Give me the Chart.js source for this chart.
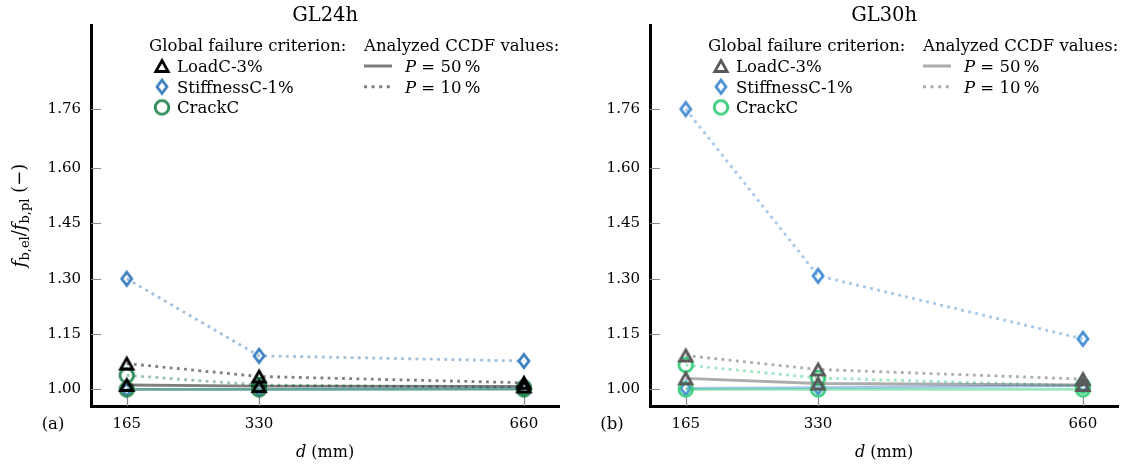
<!DOCTYPE html>
<html>
<head>
<meta charset="utf-8">
<title>GL24h / GL30h</title>
<script src="https://cdn.jsdelivr.net/npm/chart.js@4.4.0/dist/chart.umd.min.js"></script>
<style>
  html, body { margin: 0; padding: 0; background: #fff; }
  #lienzo { position: relative; width: 1137px; height: 464px; overflow: hidden; }
  #lienzo canvas { position: absolute; top: 0; }
</style>
</head>
<body>
<div id="lienzo">
  <canvas id="graficaA" width="570" height="464" style="left:0"></canvas>
  <canvas id="graficaB" width="570" height="464" style="left:559px"></canvas>
</div>
<script>
// Tamaños de probeta y marcas de los ejes
const diametros = [165, 330, 660];
const ticksX = [165, 330, 660];
const ticksY = [1.00, 1.15, 1.30, 1.45, 1.60, 1.76];
const criterios = ['LoadC-3%', 'StiffnessC-1%', 'CrackC'];

// GL24h: f_b,el / f_b,pl por criterio, P = 50 % y P = 10 %
const gl24_load_p50 = [1.012, 1.009, 1.008];
const gl24_load_p10 = [1.070, 1.035, 1.018];
const gl24_stiff_p50 = [1.000, 1.000, 1.002];
const gl24_stiff_p10 = [1.300, 1.091, 1.077];
const gl24_crack_p50 = [1.000, 1.000, 1.000];
const gl24_crack_p10 = [1.038, 1.012, 1.005];

// GL30h
const gl30_load_p50 = [1.030, 1.016, 1.012];
const gl30_load_p10 = [1.092, 1.054, 1.028];
const gl30_stiff_p50 = [1.003, 1.005, 1.010];
const gl30_stiff_p10 = [1.760, 1.308, 1.137];
const gl30_crack_p50 = [1.000, 1.000, 1.000];
const gl30_crack_p10 = [1.066, 1.031, 1.010];

const serif = '"DejaVu Serif", "Liberation Serif", serif';
const X_MIN = 120.5, X_MAX = 704;
const Y_MIN = 0.955, Y_MAX = 1.988;

function conAlfa(hex, a) {
  const n = parseInt(hex.slice(1), 16);
  return `rgba(${(n >> 16) & 255},${(n >> 8) & 255},${n & 255},${a})`;
}

// Marcadores huecos (triángulo, diamante fino, círculo) como imagen de punto
function hacerMarcador(tipo, color) {
  const c = document.createElement('canvas');
  c.width = 26; c.height = 26;
  const g = c.getContext('2d');
  g.strokeStyle = color;
  g.lineWidth = 2.8;
  g.lineJoin = 'miter';
  g.beginPath();
  if (tipo === 'tri') {
    g.moveTo(13, 7.5); g.lineTo(19.2, 18.5); g.lineTo(6.8, 18.5); g.closePath();
  } else if (tipo === 'diam') {
    g.moveTo(13, 6.3); g.lineTo(18, 13); g.lineTo(13, 19.7); g.lineTo(8, 13); g.closePath();
  } else {
    g.arc(13, 13, 6.8, 0, Math.PI * 2);
  }
  g.stroke();
  return c;
}

// Texto con cursivas y subíndices, y = línea base
function textoRico(ctx, partes, x, y, align) {
  const fuente = p => `${p.it ? 'italic ' : ''}${p.sz}px ${serif}`;
  let ancho = 0;
  partes.forEach(p => { ctx.font = fuente(p); ancho += ctx.measureText(p.t).width; });
  let cx = align === 'center' ? x - ancho / 2 : x;
  ctx.textAlign = 'left';
  ctx.textBaseline = 'alphabetic';
  partes.forEach(p => {
    ctx.font = fuente(p);
    ctx.fillText(p.t, cx, y + (p.dy || 0));
    cx += ctx.measureText(p.t).width;
  });
}

function serie(etiqueta, valores, color, punteada, marcador, orden) {
  return {
    label: etiqueta,
    data: diametros.map((d, i) => ({ x: d, y: valores[i] })),
    borderColor: conAlfa(color, 0.5),
    borderWidth: 2.8,
    borderDash: punteada ? [2.8, 4.4] : [],
    borderCapStyle: 'butt',
    pointStyle: marcador,
    pointRadius: 8,
    pointHoverRadius: 8,
    fill: false,
    tension: 0,
    clip: false,
    order: orden
  };
}

function crearGrafica(canvasId, titulo, etiqueta, conTituloY, colores, p50, p10) {
  const marcadores = [
    hacerMarcador('tri', colores[0]),
    hacerMarcador('diam', colores[1]),
    hacerMarcador('circ', colores[2])
  ];
  // triángulos encima, luego círculos, diamantes debajo
  const ordenes = [1, 3, 2];
  const datasets = [];
  for (let i = 0; i < 3; i++) {
    datasets.push(serie(`${criterios[i]} P=50%`, p50[i], colores[i], false, marcadores[i], ordenes[i]));
    datasets.push(serie(`${criterios[i]} P=10%`, p10[i], colores[i], true, marcadores[i], ordenes[i]));
  }

  // marcas interiores de los ejes
  const marcasInternas = {
    id: 'marcasInternas',
    beforeDatasetsDraw(chart) {
      const { ctx, chartArea: a, scales } = chart;
      ctx.save();
      ctx.strokeStyle = '#8a8a8a';
      ctx.lineWidth = 1.2;
      ctx.beginPath();
      ticksY.forEach(v => {
        const y = Math.round(scales.y.getPixelForValue(v)) + 0.5;
        ctx.moveTo(a.left, y); ctx.lineTo(a.left + 10, y);
      });
      ticksX.forEach(v => {
        const x = Math.round(scales.x.getPixelForValue(v)) + 0.5;
        ctx.moveTo(x, a.bottom); ctx.lineTo(x, a.bottom - 10);
      });
      ctx.stroke();
      ctx.restore();
    }
  };

  // título, leyenda de dos columnas y rótulos de ejes
  const rotulos = {
    id: 'rotulos',
    afterDraw(chart) {
      const { ctx, chartArea: a } = chart;
      const x0 = a.left;
      ctx.save();
      ctx.fillStyle = '#000';

      textoRico(ctx, [{ t: titulo, sz: 19.5 }], (a.left + a.right) / 2, 21, 'center');

      const fl = 16.5;
      textoRico(ctx, [{ t: 'Global failure criterion:', sz: fl }], x0 + 58, 51, 'left');
      textoRico(ctx, [{ t: 'Analyzed CCDF values:', sz: fl }], x0 + 273, 51, 'left');
      criterios.forEach((c, i) => {
        const y = 66 + i * 20.7;
        const m = marcadores[i];
        ctx.drawImage(m, x0 + 71 - m.width / 2, y - m.height / 2);
        textoRico(ctx, [{ t: c, sz: fl }], x0 + 86, y + 6, 'left');
      });
      ['50', '10'].forEach((p, i) => {
        const y = 66 + i * 20.7;
        ctx.strokeStyle = conAlfa(colores[0], 0.5);
        ctx.lineWidth = 3;
        ctx.setLineDash(i === 0 ? [] : [3, 4.6]);
        ctx.beginPath();
        ctx.moveTo(x0 + 273, y); ctx.lineTo(x0 + 301, y);
        ctx.stroke();
        ctx.setLineDash([]);
        textoRico(ctx, [{ t: 'P', it: true, sz: fl }, { t: ` = ${p}\u2009%`, sz: fl }], x0 + 314, y + 6, 'left');
      });

      textoRico(ctx, [{ t: 'd', it: true, sz: 16 }, { t: ' (mm)', sz: 16 }], (a.left + a.right) / 2, 457, 'center');
      textoRico(ctx, [{ t: etiqueta, sz: 16.5 }], 53, 429, 'center');

      if (conTituloY) {
        ctx.translate(20, (a.top + a.bottom) / 2);
        ctx.rotate(-Math.PI / 2);
        textoRico(ctx, [
          { t: 'f', it: true, sz: 18 }, { t: 'b,el', sz: 13, dy: 4 },
          { t: '/', sz: 18 }, { t: 'f', it: true, sz: 18 }, { t: 'b,pl', sz: 13, dy: 4 },
          { t: ' (\u2212)', sz: 18 }
        ], 0, 5, 'center');
      }
      ctx.restore();
    }
  };

  const fuenteTicks = { family: serif, size: 15 };
  return new Chart(document.getElementById(canvasId), {
    type: 'line',
    data: { datasets },
    plugins: [marcasInternas, rotulos],
    options: {
      responsive: false,
      animation: false,
      events: [],
      layout: { padding: { top: 25, right: 1, left: 0, bottom: 0 } },
      plugins: { legend: { display: false }, tooltip: { enabled: false }, title: { display: false } },
      scales: {
        x: {
          type: 'linear', min: X_MIN, max: X_MAX,
          afterBuildTicks: s => { s.ticks = ticksX.map(v => ({ value: v })); },
          afterFit: s => { s.height = 58; },
          ticks: { color: '#000', font: fuenteTicks, padding: 9, autoSkip: false, maxRotation: 0,
                   callback: v => String(v) },
          grid: { display: true, drawOnChartArea: false, drawTicks: false },
          border: { display: true, color: '#000', width: 3 }
        },
        y: {
          type: 'linear', min: Y_MIN, max: Y_MAX,
          afterBuildTicks: s => { s.ticks = ticksY.map(v => ({ value: v })); },
          afterFit: s => { s.width = 91; },
          ticks: { color: '#000', font: fuenteTicks, padding: 10, autoSkip: false,
                   callback: v => Number(v).toFixed(2) },
          grid: { display: true, drawOnChartArea: false, drawTicks: false },
          border: { display: true, color: '#000', width: 3 }
        }
      }
    }
  });
}

crearGrafica('graficaA', 'GL24h', '(a)', true,
  ['#000000', '#3f80c0', '#2e8b57'],
  [gl24_load_p50, gl24_stiff_p50, gl24_crack_p50],
  [gl24_load_p10, gl24_stiff_p10, gl24_crack_p10]);

crearGrafica('graficaB', 'GL30h', '(b)', false,
  ['#595959', '#4a90d6', '#3ccf7e'],
  [gl30_load_p50, gl30_stiff_p50, gl30_crack_p50],
  [gl30_load_p10, gl30_stiff_p10, gl30_crack_p10]);
</script>
</body>
</html>
